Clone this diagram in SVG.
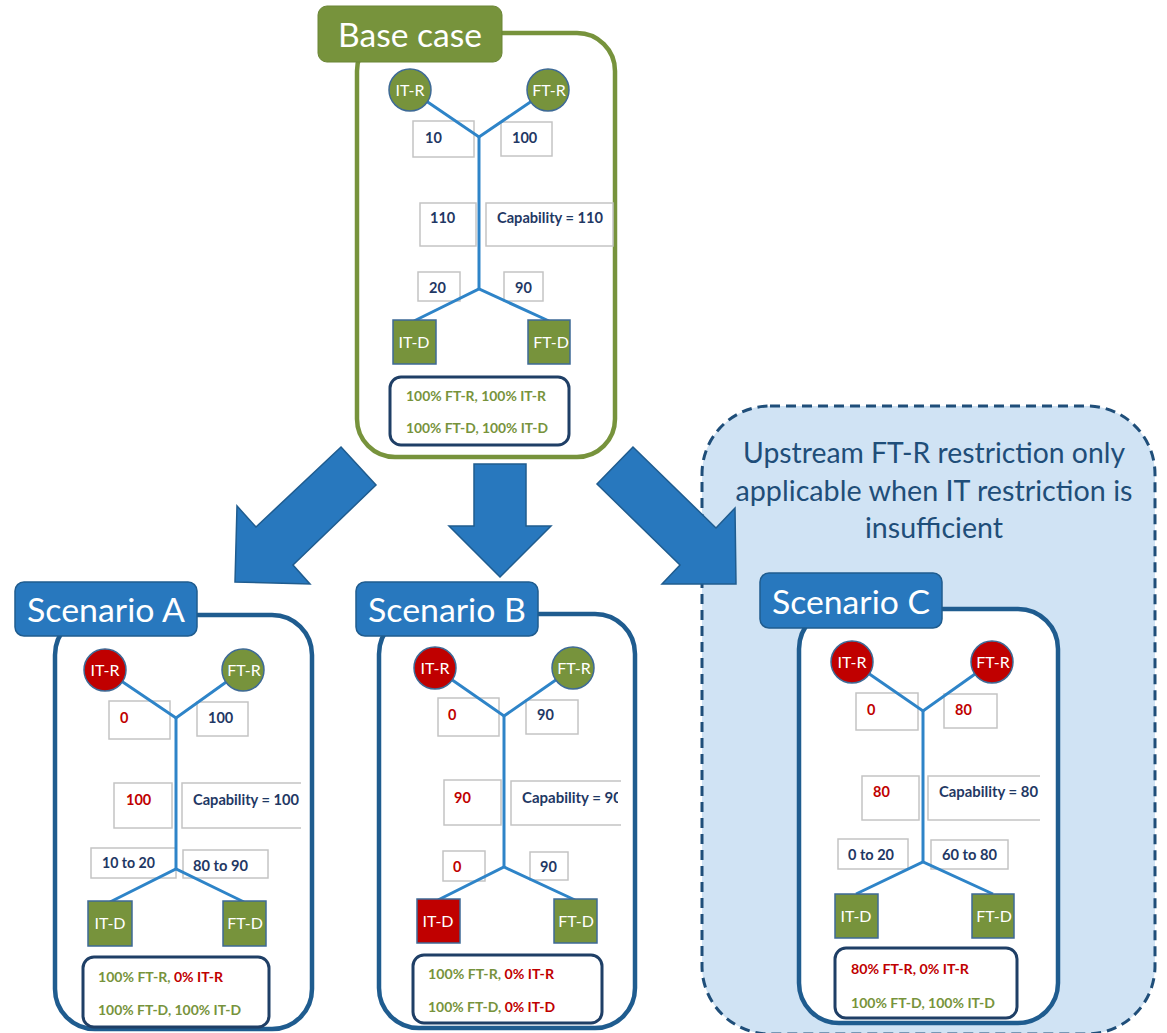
<svg xmlns="http://www.w3.org/2000/svg" width="1167" height="1033" viewBox="0 0 1167 1033">
<style>
text{font-family:Lato,"Open Sans","Liberation Sans",sans-serif}
.frameG{fill:#fff;stroke:#77933C;stroke-width:4.5}
.frameB{fill:#fff;stroke:#1F5C8F;stroke-width:4.5}
.lblG{fill:#77933C;stroke:#6A8535;stroke-width:1}
.lblB{fill:#2878BE;stroke:#1F5C8F;stroke-width:1.5}
.lblT{fill:#fff;font-size:33px;text-anchor:middle}
.nb{fill:#fff;stroke:#C4C4C4;stroke-width:1.5}
.nbo{fill:none;stroke:#C4C4C4;stroke-width:1.5}
.num{font-size:14.5px;font-weight:bold;fill:#1F3864}
.red{fill:#C00000}
.grn{fill:#77933C}
.cg{fill:#77933C;stroke:#3E6A96;stroke-width:1.5}
.cr{fill:#C00000;stroke:#3E6A96;stroke-width:1.5}
.nt{fill:#fff;font-size:16px;text-anchor:middle}
.sum{fill:#fff;stroke:#1F3F66;stroke-width:3}
.st{font-size:13.5px;font-weight:bold}
.ln{stroke:#2E84C8;stroke-width:3;fill:none;stroke-linejoin:miter}
.arr{fill:#2878BE;stroke:#1F5C8F;stroke-width:1.5}
</style>
<defs>
<clipPath id="clipA"><rect x="182" y="783" width="118" height="45"/></clipPath>
<clipPath id="clipB"><rect x="511" y="781" width="107" height="44"/></clipPath>
<clipPath id="clipC"><rect x="928" y="776" width="112" height="44"/></clipPath>
</defs>

<!-- dashed note region -->
<g id="note">
<rect x="702" y="406" width="453" height="628" rx="68" fill="#D0E3F4" stroke="#1F4E79" stroke-width="3" stroke-dasharray="10 6"/>
<text x="934" y="463" font-size="28" fill="#1F4E79" text-anchor="middle" textLength="382" lengthAdjust="spacingAndGlyphs">Upstream FT-R restriction only</text>
<text x="934" y="501" font-size="28" fill="#1F4E79" text-anchor="middle" textLength="397" lengthAdjust="spacingAndGlyphs">applicable when IT restriction is</text>
<text x="934" y="538" font-size="28" fill="#1F4E79" text-anchor="middle" textLength="138" lengthAdjust="spacingAndGlyphs">insufficient</text>
</g>

<!-- frames -->
<g id="base-case">
<rect class="frameG" x="357" y="33" width="258" height="424" rx="38"/>
<rect class="lblG" x="318" y="6" width="184" height="56" rx="9"/>
<text class="lblT" x="410" y="47" font-size="34" textLength="144" lengthAdjust="spacingAndGlyphs">Base case</text>
</g>
<g id="scenario-a">
<rect class="frameB" x="55" y="615" width="257" height="414" rx="40"/>
<rect class="lblB" x="15" y="582" width="182" height="54" rx="9"/>
<text class="lblT" x="106" y="622" textLength="158" lengthAdjust="spacingAndGlyphs">Scenario A</text>
</g>
<g id="scenario-b">
<rect class="frameB" x="379" y="614" width="256" height="414" rx="40"/>
<rect class="lblB" x="356" y="582" width="182" height="54" rx="9"/>
<text class="lblT" x="447" y="622" textLength="158" lengthAdjust="spacingAndGlyphs">Scenario B</text>
</g>
<g id="scenario-c">
<rect class="frameB" x="799" y="609" width="259" height="414" rx="40"/>
<rect class="lblB" x="760" y="573" width="182" height="55" rx="9"/>
<text class="lblT" x="851" y="614" textLength="158" lengthAdjust="spacingAndGlyphs">Scenario C</text>
</g>

<!-- number boxes -->
<g id="base-values">
<rect class="nb" x="413" y="121" width="61" height="36"/><text class="num" x="425" y="143">10</text>
<rect class="nb" x="501" y="122" width="51" height="34"/><text class="num" x="512" y="143">100</text>
<rect class="nb" x="420" y="203" width="56" height="43"/><text class="num" x="430" y="223">110</text>
<rect class="nb" x="486" y="203" width="127" height="43"/><text class="num" x="497" y="223" textLength="106" lengthAdjust="spacingAndGlyphs">Capability = 110</text>
<rect class="nb" x="418" y="272" width="42" height="29"/><text class="num" x="429" y="293">20</text>
<rect class="nb" x="504" y="272" width="39" height="29"/><text class="num" x="515" y="293">90</text>
</g>
<g id="a-values">
<rect class="nb" x="109" y="701" width="61" height="38"/><text class="num red" x="120" y="723">0</text>
<rect class="nb" x="197" y="702" width="51" height="34"/><text class="num" x="208" y="723">100</text>
<rect class="nb" x="114" y="783" width="58" height="45"/><text class="num red" x="126" y="805">100</text>
<path class="nbo" d="M301,783 H182 V828 H301"/>
<text class="num" x="193" y="805" clip-path="url(#clipA)" textLength="106" lengthAdjust="spacingAndGlyphs">Capability = 100</text>
<rect class="nb" x="91" y="848" width="85" height="30"/><text class="num" x="102" y="868" textLength="53" lengthAdjust="spacingAndGlyphs">10 to 20</text>
<rect class="nb" x="183" y="850" width="85" height="28"/><text class="num" x="193" y="871" textLength="55" lengthAdjust="spacingAndGlyphs">80 to 90</text>
</g>
<g id="b-values">
<rect class="nb" x="438" y="698" width="61" height="38"/><text class="num red" x="448" y="720">0</text>
<rect class="nb" x="526" y="700" width="52" height="34"/><text class="num" x="537" y="720">90</text>
<rect class="nb" x="444" y="780" width="57" height="45"/><text class="num red" x="454" y="803">90</text>
<path class="nbo" d="M621,781 H511 V825 H621"/>
<text class="num" x="522" y="803" clip-path="url(#clipB)" textLength="100" lengthAdjust="spacingAndGlyphs">Capability = 90</text>
<rect class="nb" x="443" y="851" width="42" height="30"/><text class="num red" x="453" y="872">0</text>
<rect class="nb" x="530" y="852" width="38" height="28"/><text class="num" x="540" y="872">90</text>
</g>
<g id="c-values">
<rect class="nb" x="856" y="693" width="62" height="37"/><text class="num red" x="867" y="715">0</text>
<rect class="nb" x="944" y="694" width="53" height="34"/><text class="num red" x="955" y="715">80</text>
<rect class="nb" x="862" y="776" width="57" height="44"/><text class="num red" x="873" y="797">80</text>
<path class="nbo" d="M1040,776 H928 V820 H1040"/>
<text class="num" x="939" y="797" clip-path="url(#clipC)" textLength="99" lengthAdjust="spacingAndGlyphs">Capability = 80</text>
<rect class="nb" x="838" y="839" width="70" height="30"/><text class="num" x="848" y="860" textLength="46" lengthAdjust="spacingAndGlyphs">0 to 20</text>
<rect class="nb" x="931" y="840" width="77" height="29"/><text class="num" x="942" y="860" textLength="55" lengthAdjust="spacingAndGlyphs">60 to 80</text>
</g>

<!-- connectors -->
<g id="connectors">
<polyline class="ln" points="410,90 479,137 548,90"/>
<line class="ln" x1="479" y1="137" x2="479" y2="289"/>
<polyline class="ln" points="414,321 479,289 549,321"/>

<polyline class="ln" points="105,670 176,718 243,670"/>
<line class="ln" x1="176" y1="718" x2="176" y2="869"/>
<polyline class="ln" points="110,902 176,869 244,902"/>

<polyline class="ln" points="435,668 504,716 573,668"/>
<line class="ln" x1="504" y1="716" x2="504" y2="867"/>
<polyline class="ln" points="438,900 504,867 575,900"/>

<polyline class="ln" points="852,662 923,711 992,662"/>
<line class="ln" x1="923" y1="711" x2="923" y2="862"/>
<polyline class="ln" points="856,894 923,862 993,894"/>

<polygon class="arr" points="341,447 376,485 293,565 310,584 235,582 237,506 256,527"/>
<polygon class="arr" points="474,464 526,464 526,526 551,526 500,577 449,526 474,526"/>
<polygon class="arr" points="633,447 597,484 680,565 662,584 736,584 735,508 716,528"/>
</g>

<!-- nodes -->
<g id="base-it-r"><circle class="cg" cx="410" cy="90" r="21"/><text class="nt" x="410" y="96">IT-R</text></g>
<g id="base-ft-r"><circle class="cg" cx="548" cy="90" r="21"/><text class="nt" x="549" y="96">FT-R</text></g>
<g id="base-it-d"><rect class="cg" x="393" y="320" width="43" height="44"/><text class="nt" x="414" y="348">IT-D</text></g>
<g id="base-ft-d"><rect class="cg" x="528" y="320" width="42" height="44"/><text class="nt" x="551" y="348">FT-D</text></g>
<g id="base-summary"><rect class="sum" x="390" y="377" width="179" height="68" rx="11"/>
<text class="st grn" x="406" y="401" textLength="140" lengthAdjust="spacingAndGlyphs">100% FT-R, 100% IT-R</text>
<text class="st grn" x="406" y="433" textLength="142" lengthAdjust="spacingAndGlyphs">100% FT-D, 100% IT-D</text></g>

<g id="a-it-r"><circle class="cr" cx="105" cy="670" r="21"/><text class="nt" x="105" y="676">IT-R</text></g>
<g id="a-ft-r"><circle class="cg" cx="243" cy="670" r="21"/><text class="nt" x="244" y="676">FT-R</text></g>
<g id="a-it-d"><rect class="cg" x="88" y="901" width="44" height="45"/><text class="nt" x="110" y="929">IT-D</text></g>
<g id="a-ft-d"><rect class="cg" x="223" y="901" width="43" height="45"/><text class="nt" x="245" y="929">FT-D</text></g>
<g id="a-summary"><rect class="sum" x="83" y="957" width="186" height="70" rx="11"/>
<text class="st" x="98" y="982" textLength="125" lengthAdjust="spacingAndGlyphs"><tspan class="grn">100% FT-R, </tspan><tspan class="red">0% IT-R</tspan></text>
<text class="st grn" x="98" y="1015" textLength="143" lengthAdjust="spacingAndGlyphs">100% FT-D, 100% IT-D</text></g>

<g id="b-it-r"><circle class="cr" cx="435" cy="668" r="21"/><text class="nt" x="435" y="674">IT-R</text></g>
<g id="b-ft-r"><circle class="cg" cx="573" cy="668" r="21"/><text class="nt" x="574" y="674">FT-R</text></g>
<g id="b-it-d"><rect class="cr" x="417" y="899" width="43" height="44"/><text class="nt" x="438" y="927">IT-D</text></g>
<g id="b-ft-d"><rect class="cg" x="554" y="899" width="43" height="44"/><text class="nt" x="576" y="927">FT-D</text></g>
<g id="b-summary"><rect class="sum" x="413" y="955" width="189" height="68" rx="11"/>
<text class="st" x="428" y="979" textLength="126" lengthAdjust="spacingAndGlyphs"><tspan class="grn">100% FT-R, </tspan><tspan class="red">0% IT-R</tspan></text>
<text class="st" x="428" y="1012" textLength="127" lengthAdjust="spacingAndGlyphs"><tspan class="grn">100% FT-D, </tspan><tspan class="red">0% IT-D</tspan></text></g>

<g id="c-it-r"><circle class="cr" cx="852" cy="662" r="21"/><text class="nt" x="852" y="668">IT-R</text></g>
<g id="c-ft-r"><circle class="cr" cx="992" cy="662" r="21"/><text class="nt" x="993" y="668">FT-R</text></g>
<g id="c-it-d"><rect class="cg" x="835" y="894" width="43" height="44"/><text class="nt" x="856" y="922">IT-D</text></g>
<g id="c-ft-d"><rect class="cg" x="972" y="894" width="42" height="44"/><text class="nt" x="994" y="922">FT-D</text></g>
<g id="c-summary"><rect class="sum" x="835" y="948" width="182" height="70" rx="11"/>
<text class="st red" x="851" y="974" textLength="118" lengthAdjust="spacingAndGlyphs">80% FT-R, 0% IT-R</text>
<text class="st grn" x="851" y="1008" textLength="144" lengthAdjust="spacingAndGlyphs">100% FT-D, 100% IT-D</text></g>
</svg>
